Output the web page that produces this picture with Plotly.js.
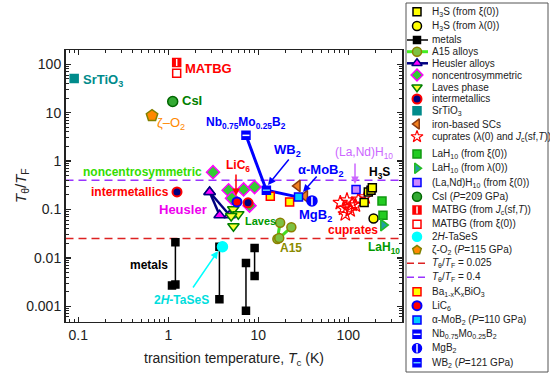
<!DOCTYPE html>
<html><head><meta charset="utf-8">
<script src="https://cdn.plot.ly/plotly-3.0.1.min.js"></script>
<style>body{margin:0;padding:0;background:#fff}#chart{width:550px;height:374px}</style>
</head><body><div id="chart"></div>
<script>
// ---------------- data (Tc in K, ratio Ttheta/TF) ----------------
const h3sXiTc=[150,167,179,185], h3sXiR=[0.139,0.23,0.25,0.28];
const h3sLamTc=[191], h3sLamR=[0.065];
const metalsTc=[1.2,1.2,null,1.1,null,3.7,3.7,null,7.3,7.3,null,9.1,9.1];
const metalsR=[0.021,0.0028,null,0.0027,null,0.017,0.0014,null,0.0078,0.00081,null,0.016,0.0042];
const a15Tc=[17.5,16.3,null,23.3,17.1], a15R=[0.053,0.0245,null,0.043,0.0256];
const heuslerTc=[2.88,4.8,null,2.88,3.72], heuslerR=[0.23,0.076,null,0.23,0.076];
const noncentroTc=[3.14,4.68,6.87,9.1,5.1,8.0], noncentroR=[0.59,0.25,0.26,0.29,0.17,0.12];
const lavesTc=[5.27,6.0,5.0,5.3], lavesR=[0.101,0.080,0.073,0.045];
const interTc=[1.25,7.7], interR=[0.23,0.137];
const srtio3Tc=[0.09], srtio3R=[51];
const ironTc=[27.3,33], ironR=[0.306,0.188];
const cupratesTc=[81.5,96.7,110,130,154,88.7,105,92.6,120];
const cupratesR=[0.137,0.155,0.127,0.161,0.18,0.105,0.097,0.080,0.122];
const lah10XiTc=[237,243], lah10XiR=[0.15,0.076];
const lah10LamTc=[245], lah10LamR=[0.0475];
const laNdTc=[122], laNdR=[0.258];
const csiTc=[1.12], csiR=[17];
const matbgJcTc=[1.24], matbgJcR=[109];
const matbgXiTc=[1.24], matbgXiR=[65];
const tasesTc=[4.0], tasesR=[0.017];
const o2Tc=[0.66], o2R=[8.7];
const bkboTc=[13.6,22.3], bkboR=[0.188,0.143];
const licTc=[5.8], licR=[0.143];
const moB2Tc=[28], moB2R=[0.18];
const nbMoB2Tc=[7.3], nbMoB2R=[3.4];
const mgB2Tc=[39.5], mgB2R=[0.15];
const wB2Tc=[12.3], wB2R=[0.25];
const diborideTc=[7.3,12.3,28], diborideR=[3.4,0.25,0.18];
const limitLow=0.025, limitHigh=0.4;
const xTickVals=[0.1,1,10,100], xTickText=['0.1','1','10','100'];
const yTickVals=[0.001,0.01,0.1,1,10,100], yTickText=['0.001','0.01','0.1','1','10','100'];

// ---------------- helpers ----------------
const W=550,H=374;
const FONT="Arial, 'Liberation Sans', sans-serif";
const X0=65.5, X1=402, Y0=50, Y1=321.5;
const xr=[-1.142,2.597], yr=[-3.315,2.295];
const px=v=>v/W, py=v=>1-v/H;
function minorVals(lo,hi){const v=[];for(let e=lo;e<=hi;e++)for(let d=2;d<=9;d++)v.push(d*Math.pow(10,e));return v;}
function mk(sym,size,fill,line,lw){return {symbol:sym,size:size,color:fill,line:{color:line,width:lw==null?1.5:lw}};}

const S={
 h3sXi:mk('square',8,'#FFFF00','#000000'),
 h3sLam:mk('circle',9,'#FFFF00','#000000'),
 metals:mk('square',7,'#000000','#000000'),
 a15:mk('circle',9,'#7DC142','#8B8000'),
 heusler:mk('triangle-up',10,'#FF00FF','#000080'),
 noncentro:mk('diamond',10,'#33CC33','#FF00FF'),
 laves:mk('triangle-down',10,'#FFFF33','#008000'),
 inter:mk('circle',9,'#000080','#FF0000',2),
 srtio3:mk('square',8,'#008B8B','#008B8B'),
 iron:mk('triangle-left',10,'#F08020','#8B3A0F'),
 cuprates:mk('star-open',11,'#FF0000','#FF0000',1.2),
 lah10Xi:mk('square',8,'#22CC22','#119911'),
 lah10Lam:mk('triangle-right',10,'#20A0A0','#22BB22'),
 laNd:mk('square',8,'#CC88FF','#0000FF'),
 csi:mk('circle',10,'#33AA33','#006600'),
 matbgJc:mk('square',8,'#FF0000','#FF0000'),
 matbgXi:mk('square',8,'#FFFFFF','#FF0000'),
 tases:mk('circle',10,'#00FFFF','#00FFFF'),
 o2:mk('pentagon',12,'#FF8800','#808000'),
 bkbo:mk('square',8,'#FFFF00','#FF0000'),
 lic:mk('circle',9,'#FF0000','#0000FF',2),
 moB2:mk('square',8,'#00CCFF','#0000FF'),
 nbMoB2:mk('square',8,'#0000FF','#0000FF'),
 mgB2:mk('circle',10,'#0000FF','#0000FF'),
 wB2:mk('square',8,'#0000FF','#0000FF')
};
const overlay={
 matbgJc:{symbol:'line-ns',size:5,line:{color:'#FFFFFF',width:1.5}},
 nbMoB2:{symbol:'line-ew',size:5,line:{color:'#FFFFFF',width:1.5}},
 mgB2:{symbol:'line-ns',size:6,line:{color:'#FFFFFF',width:1.5}},
 wB2:{symbol:'line-ew',size:5,line:{color:'#66CCFF',width:1.5}}
};

const traces=[];
function pts(x,y,key,extra){traces.push(Object.assign({type:'scatter',mode:'markers',x:x,y:y,marker:S[key],hoverinfo:'skip',cliponaxis:false,showlegend:false},extra||{}));
 if(overlay[key]) traces.push({type:'scatter',mode:'markers',x:x,y:y,marker:overlay[key],hoverinfo:'skip',cliponaxis:false,showlegend:false});}
const xEnds=[Math.pow(10,xr[0]),Math.pow(10,xr[1])];
// reference lines
traces.push({type:'scatter',mode:'lines',x:xEnds,y:[limitLow,limitLow],line:{color:'#DD2222',width:1.5,dash:'8px,5px'},hoverinfo:'skip',showlegend:false});
traces.push({type:'scatter',mode:'lines',x:xEnds,y:[limitHigh,limitHigh],line:{color:'#9933FF',width:1.5,dash:'8px,5px'},hoverinfo:'skip',showlegend:false});
// connected groups
traces.push({type:'scatter',mode:'lines',x:diborideTc,y:diborideR,line:{color:'#0000FF',width:3},hoverinfo:'skip',showlegend:false});
traces.push({type:'scatter',mode:'lines+markers',x:metalsTc,y:metalsR,line:{color:'#000000',width:1.5},marker:S.metals,hoverinfo:'skip',cliponaxis:false,showlegend:false});
traces.push({type:'scatter',mode:'lines+markers',x:a15Tc,y:a15R,line:{color:'#44DD22',width:3},marker:S.a15,hoverinfo:'skip',cliponaxis:false,showlegend:false});
traces.push({type:'scatter',mode:'lines+markers',x:heuslerTc,y:heuslerR,line:{color:'#000080',width:2.5},marker:S.heusler,hoverinfo:'skip',cliponaxis:false,showlegend:false});
pts(noncentroTc,noncentroR,'noncentro');
pts(lavesTc,lavesR,'laves');
pts(licTc,licR,'lic');
pts(interTc,interR,'inter');
pts(srtio3Tc,srtio3R,'srtio3');
pts(bkboTc,bkboR,'bkbo');
pts(ironTc,ironR,'iron');
pts(cupratesTc,cupratesR,'cuprates');
pts(h3sXiTc,h3sXiR,'h3sXi');
pts(h3sLamTc,h3sLamR,'h3sLam');
pts(lah10XiTc,lah10XiR,'lah10Xi');
pts(lah10LamTc,lah10LamR,'lah10Lam');
pts(laNdTc,laNdR,'laNd');
pts(csiTc,csiR,'csi');
pts(matbgJcTc,matbgJcR,'matbgJc');
pts(matbgXiTc,matbgXiR,'matbgXi');
pts(tasesTc,tasesR,'tases');
pts(o2Tc,o2R,'o2');
pts(nbMoB2Tc,nbMoB2R,'nbMoB2');
pts(wB2Tc,wB2R,'wB2');
pts(moB2Tc,moB2R,'moB2');
pts(mgB2Tc,mgB2R,'mgB2');

// ---------------- legend (drawn manually) ----------------
const legendLabels=[
 'H<sub>3</sub>S (from ξ(0))','H<sub>3</sub>S (from λ(0))','metals','A15 alloys','Heusler alloys',
 'noncentrosymmetric','Laves phase','intermetallics','SrTiO<sub>3</sub>','iron-based SCs',
 'cuprates (λ(0) and <i>J</i><sub>c</sub>(sf,<i>T</i>))','LaH<sub>10</sub> (from ξ(0))','LaH<sub>10</sub> (from λ(0))',
 '(La,Nd)H<sub>10</sub> (from ξ(0))','CsI (<i>P</i>=209 GPa)','MATBG (from <i>J</i><sub>c</sub>(sf,<i>T</i>))',
 'MATBG (from ξ(0))','2<i>H</i>-TaSeS','ζ-O<sub>2</sub> (<i>P</i>=115 GPa)',
 '<i>T</i><sub>θ</sub>/<i>T</i><sub>F</sub> = 0.025','<i>T</i><sub>θ</sub>/<i>T</i><sub>F</sub> = 0.4',
 'Ba<sub>1-x</sub>K<sub>x</sub>BiO<sub>3</sub>','LiC<sub>6</sub>','α-MoB<sub>2</sub> (<i>P</i>=110 GPa)',
 'Nb<sub>0.75</sub>Mo<sub>0.25</sub>B<sub>2</sub>','MgB<sub>2</sub>','WB<sub>2</sub> (<i>P</i>=121 GPa)'];
const legendKeys=['h3sXi','h3sLam','metals','a15','heusler','noncentro','laves','inter','srtio3','iron','cuprates',
 'lah10Xi','lah10Lam','laNd','csi','matbgJc','matbgXi','tases','o2',null,null,'bkbo','lic','moB2','nbMoB2','mgB2','wB2'];
const legendLines={metals:{color:'#000000',width:1.5},a15:{color:'#44EE22',width:3},heusler:{color:'#000080',width:2.5}};
const legendDash=[null,null,null,null,null,null,null,null,null,null,null,null,null,null,null,null,null,null,null,'#DD2222','#9933FF'];
const rowY=[11.7,26,40,51.7,63.3,75,87.3,99,110.7,124,136.7,154,168.3,182.5,196.7,210,224.3,236.7,250,263.3,277.3,291.7,305.7,320,334.3,348.3,362.7];
const LX0=407,LX1=428,LXM=417,LTX=430;
const annotations=[];
legendLabels.forEach((lab,i)=>{
 const k=legendKeys[i], y=rowY[i];
 if(legendDash[i]){
  traces.push({type:'scatter',mode:'lines',x:[LX0,LX1],y:[y,y],xaxis:'x2',yaxis:'y2',line:{color:legendDash[i],width:1.5,dash:'7px,4px'},hoverinfo:'skip',showlegend:false});
 }
 if(k && legendLines[k]){
  traces.push({type:'scatter',mode:'lines',x:[LX0,LX1],y:[y,y],xaxis:'x2',yaxis:'y2',line:legendLines[k],hoverinfo:'skip',showlegend:false});
 }
 if(k){
  const m=Object.assign({},S[k],{size:Math.min(S[k].size,9)});
  traces.push({type:'scatter',mode:'markers',x:[LXM],y:[y],xaxis:'x2',yaxis:'y2',marker:m,hoverinfo:'skip',cliponaxis:false,showlegend:false});
  if(overlay[k]) traces.push({type:'scatter',mode:'markers',x:[LXM],y:[y],xaxis:'x2',yaxis:'y2',marker:overlay[k],hoverinfo:'skip',cliponaxis:false,showlegend:false});
 }
 annotations.push({xref:'paper',yref:'paper',x:px(LTX),y:py(y),xanchor:'left',yanchor:'middle',text:lab,showarrow:false,font:{family:FONT,size:10,color:'#222'}});
});

// ---------------- in-plot labels ----------------
function lab(t,x,y,color,size,bold){annotations.push({xref:'paper',yref:'paper',x:px(x),y:py(y),xanchor:'center',yanchor:'middle',text:bold===false?t:'<b>'+t+'</b>',showarrow:false,font:{family:FONT,size:size,color:color}});}
lab('SrTiO<sub>3</sub>',103,81,'#008B8B',13);
lab('MATBG',208,68,'#FF0000',13);
lab('CsI',192,101,'#008000',13);
lab('ζ–O<sub>2</sub>',171,123,'#FF8800',13,false);
lab('Nb<sub>0.75</sub>Mo<sub>0.25</sub>B<sub>2</sub>',246,123,'#0000FF',12);
lab('WB<sub>2</sub>',287,150,'#0000FF',13);
lab('α-MoB<sub>2</sub>',321,170,'#0000FF',13);
lab('MgB<sub>2</sub>',315,215,'#0000FF',13);
lab('(La,Nd)H<sub>10</sub>',364,153,'#CC66FF',12,false);
lab('H<sub>3</sub>S',379,173,'#000000',12);
lab('noncentrosymmetric',142,172,'#33DD00',12);
lab('intermetallics',130,192,'#FF0000',12);
lab('Heusler',183,209,'#EE00EE',13);
lab('LiC<sub>6</sub>',238,166,'#FF0000',12);
lab('Laves',260,221,'#009900',11);
lab('A15',291,248,'#8B8B00',12);
lab('cuprates',353,230,'#FF0000',12);
lab('LaH<sub>10</sub>',384,248,'#009900',12);
lab('metals',149,265,'#000000',12);
lab('2<i>H</i>-TaSeS',181,300,'#00DDDD',12);
function arrow(hx,hy,tx,ty,color){annotations.push({xref:'paper',yref:'paper',x:px(hx),y:py(hy),ax:tx-hx,ay:ty-hy,text:'',showarrow:true,arrowhead:2,arrowsize:1,arrowwidth:1.5,arrowcolor:color,standoff:0,startstandoff:0});}
arrow(236,196,236,173,'#FF0000');
arrow(268,185,290,158,'#0000FF');
arrow(303,192,318,175,'#0000FF');
arrow(355,184,355,162,'#CC66FF');
arrow(218,251,192,289,'#00FFFF');
// axis titles
annotations.push({xref:'paper',yref:'paper',x:px(234),y:py(359),xanchor:'center',yanchor:'middle',text:'transition temperature, <i>T</i><sub>c</sub> (K)',showarrow:false,font:{family:FONT,size:14,color:'#222'}});
annotations.push({xref:'paper',yref:'paper',x:px(21),y:py(186),xanchor:'center',yanchor:'middle',textangle:-90,text:'<i>T</i><sub>θ</sub>/<i>T</i><sub>F</sub>',showarrow:false,font:{family:FONT,size:15,color:'#222'}});

const axCommon={showline:true,linecolor:'#222',linewidth:1.5,mirror:'allticks',ticks:'inside',ticklen:5,tickwidth:1.3,tickcolor:'#222',showgrid:false,zeroline:false,tickfont:{family:FONT,size:14,color:'#222'},fixedrange:true};
const layout={
 width:W,height:H,margin:{l:0,r:0,t:0,b:0},paper_bgcolor:'#fff',plot_bgcolor:'rgba(0,0,0,0)',showlegend:false,
 xaxis:Object.assign({},axCommon,{type:'log',range:xr,domain:[X0/W,X1/W],anchor:'y',tickmode:'array',tickvals:xTickVals,ticktext:xTickText,
   minor:{tickmode:'array',tickvals:minorVals(-2,2),ticks:'inside',ticklen:3,tickwidth:1,tickcolor:'#222',showgrid:false}}),
 yaxis:Object.assign({},axCommon,{type:'log',range:yr,domain:[1-Y1/H,1-Y0/H],anchor:'x',tickmode:'array',tickvals:yTickVals,ticktext:yTickText,
   minor:{tickmode:'array',tickvals:minorVals(-4,2),ticks:'inside',ticklen:3,tickwidth:1,tickcolor:'#222',showgrid:false}}),
 xaxis2:{domain:[0,1],range:[0,W],visible:false,anchor:'y2',fixedrange:true},
 yaxis2:{domain:[0,1],range:[H,0],visible:false,anchor:'x2',fixedrange:true},
 shapes:[{type:'rect',xref:'paper',yref:'paper',x0:px(406),x1:px(548),y0:py(372),y1:py(3),line:{color:'#555',width:1},fillcolor:'rgba(0,0,0,0)',layer:'below'}],
 annotations:annotations,
 font:{family:FONT}
};
Plotly.newPlot('chart',traces,layout,{displayModeBar:false,staticPlot:true});
</script></body></html>
